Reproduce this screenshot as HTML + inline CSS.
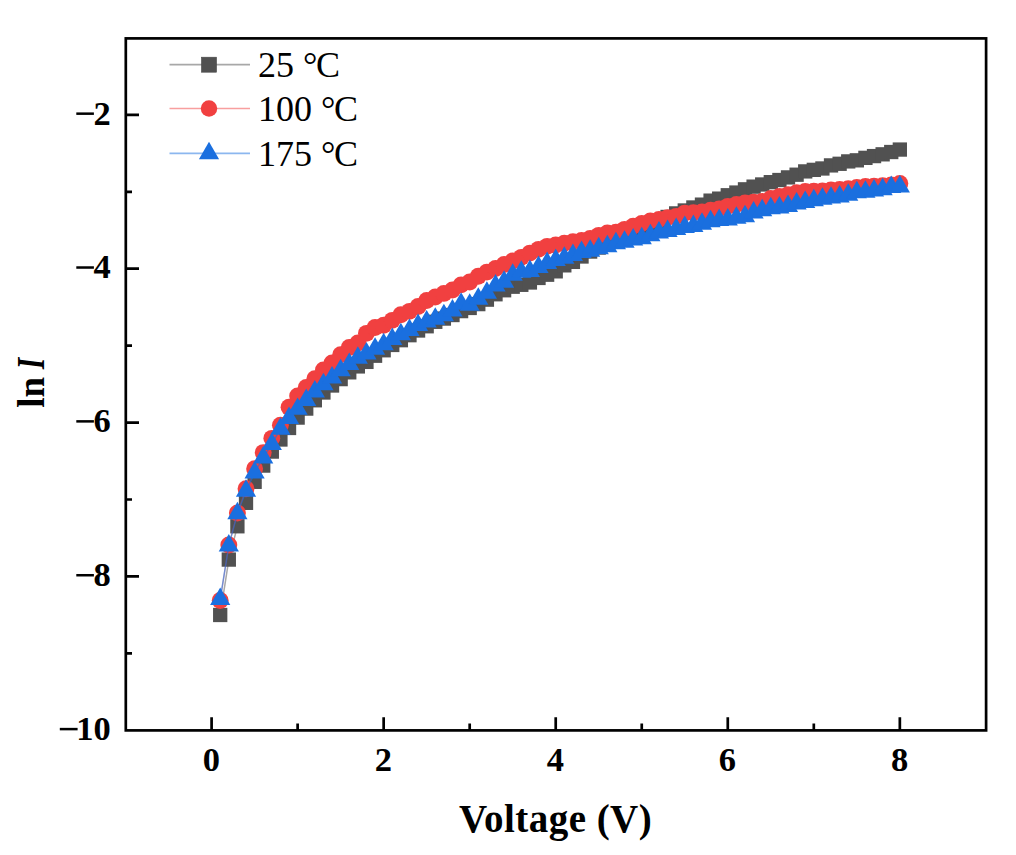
<!DOCTYPE html><html><head><meta charset="utf-8"><style>html,body{margin:0;padding:0;background:#fff;}svg{display:block;}</style></head><body>
<svg width="1016" height="855" viewBox="0 0 1016 855">
<rect x="0" y="0" width="1016" height="855" fill="#fff"/>
<path d="M220.20,614.98 L228.81,559.59 L237.41,526.28 L246.01,502.82 L254.62,481.82 L263.22,465.58 L271.82,451.58 L280.42,439.50 L289.03,427.97 L297.63,417.58 L306.23,408.58 L314.84,400.27 L323.44,392.50 L332.04,385.50 L340.64,379.11 L349.25,372.34 L357.85,366.42 L366.45,361.88 L375.06,355.73 L383.66,350.27 L392.26,344.96 L400.87,340.19 L409.47,335.19 L418.07,330.49 L426.67,326.26 L435.28,321.80 L443.88,318.57 L452.48,315.03 L461.09,311.11 L469.69,307.95 L478.29,304.11 L486.90,299.65 L495.50,294.26 L504.10,290.26 L512.71,286.72 L521.31,284.80 L529.91,282.49 L538.51,277.95 L547.12,274.72 L555.72,271.34 L564.32,265.34 L572.93,261.87 L581.53,256.49 L590.13,251.56 L598.74,247.56 L607.34,243.72 L615.94,239.95 L624.54,236.10 L633.15,232.26 L641.75,228.49 L650.35,224.64 L658.96,220.79 L667.56,216.95 L676.16,213.41 L684.76,210.48 L693.37,207.48 L701.97,204.64 L710.57,200.64 L719.18,198.64 L727.78,195.25 L736.38,192.56 L744.99,189.33 L753.59,186.64 L762.19,184.48 L770.80,182.17 L779.40,180.02 L788.00,177.40 L796.60,174.71 L805.21,171.40 L813.81,169.86 L822.41,168.48 L831.02,165.40 L839.62,163.79 L848.22,161.40 L856.83,160.33 L865.43,157.86 L874.03,156.09 L882.63,154.33 L891.24,152.02 L899.84,149.56" fill="none" stroke="#515151" stroke-opacity="0.5" stroke-width="1.5"/>
<g fill="#515151">
<rect x="213.05" y="607.83" width="14.30" height="14.30"/>
<rect x="221.66" y="552.44" width="14.30" height="14.30"/>
<rect x="230.26" y="519.13" width="14.30" height="14.30"/>
<rect x="238.86" y="495.67" width="14.30" height="14.30"/>
<rect x="247.47" y="474.67" width="14.30" height="14.30"/>
<rect x="256.07" y="458.43" width="14.30" height="14.30"/>
<rect x="264.67" y="444.43" width="14.30" height="14.30"/>
<rect x="273.27" y="432.35" width="14.30" height="14.30"/>
<rect x="281.88" y="420.82" width="14.30" height="14.30"/>
<rect x="290.48" y="410.43" width="14.30" height="14.30"/>
<rect x="299.08" y="401.43" width="14.30" height="14.30"/>
<rect x="307.69" y="393.12" width="14.30" height="14.30"/>
<rect x="316.29" y="385.35" width="14.30" height="14.30"/>
<rect x="324.89" y="378.35" width="14.30" height="14.30"/>
<rect x="333.50" y="371.96" width="14.30" height="14.30"/>
<rect x="342.10" y="365.19" width="14.30" height="14.30"/>
<rect x="350.70" y="359.27" width="14.30" height="14.30"/>
<rect x="359.30" y="354.73" width="14.30" height="14.30"/>
<rect x="367.91" y="348.58" width="14.30" height="14.30"/>
<rect x="376.51" y="343.12" width="14.30" height="14.30"/>
<rect x="385.11" y="337.81" width="14.30" height="14.30"/>
<rect x="393.72" y="333.04" width="14.30" height="14.30"/>
<rect x="402.32" y="328.04" width="14.30" height="14.30"/>
<rect x="410.92" y="323.34" width="14.30" height="14.30"/>
<rect x="419.52" y="319.11" width="14.30" height="14.30"/>
<rect x="428.13" y="314.65" width="14.30" height="14.30"/>
<rect x="436.73" y="311.42" width="14.30" height="14.30"/>
<rect x="445.33" y="307.88" width="14.30" height="14.30"/>
<rect x="453.94" y="303.96" width="14.30" height="14.30"/>
<rect x="462.54" y="300.80" width="14.30" height="14.30"/>
<rect x="471.14" y="296.96" width="14.30" height="14.30"/>
<rect x="479.75" y="292.50" width="14.30" height="14.30"/>
<rect x="488.35" y="287.11" width="14.30" height="14.30"/>
<rect x="496.95" y="283.11" width="14.30" height="14.30"/>
<rect x="505.56" y="279.57" width="14.30" height="14.30"/>
<rect x="514.16" y="277.65" width="14.30" height="14.30"/>
<rect x="522.76" y="275.34" width="14.30" height="14.30"/>
<rect x="531.36" y="270.80" width="14.30" height="14.30"/>
<rect x="539.97" y="267.57" width="14.30" height="14.30"/>
<rect x="548.57" y="264.19" width="14.30" height="14.30"/>
<rect x="557.17" y="258.19" width="14.30" height="14.30"/>
<rect x="565.78" y="254.72" width="14.30" height="14.30"/>
<rect x="574.38" y="249.34" width="14.30" height="14.30"/>
<rect x="582.98" y="244.41" width="14.30" height="14.30"/>
<rect x="591.59" y="240.41" width="14.30" height="14.30"/>
<rect x="600.19" y="236.57" width="14.30" height="14.30"/>
<rect x="608.79" y="232.80" width="14.30" height="14.30"/>
<rect x="617.39" y="228.95" width="14.30" height="14.30"/>
<rect x="626.00" y="225.11" width="14.30" height="14.30"/>
<rect x="634.60" y="221.34" width="14.30" height="14.30"/>
<rect x="643.20" y="217.49" width="14.30" height="14.30"/>
<rect x="651.81" y="213.64" width="14.30" height="14.30"/>
<rect x="660.41" y="209.80" width="14.30" height="14.30"/>
<rect x="669.01" y="206.26" width="14.30" height="14.30"/>
<rect x="677.62" y="203.33" width="14.30" height="14.30"/>
<rect x="686.22" y="200.33" width="14.30" height="14.30"/>
<rect x="694.82" y="197.49" width="14.30" height="14.30"/>
<rect x="703.42" y="193.49" width="14.30" height="14.30"/>
<rect x="712.03" y="191.49" width="14.30" height="14.30"/>
<rect x="720.63" y="188.10" width="14.30" height="14.30"/>
<rect x="729.23" y="185.41" width="14.30" height="14.30"/>
<rect x="737.84" y="182.18" width="14.30" height="14.30"/>
<rect x="746.44" y="179.49" width="14.30" height="14.30"/>
<rect x="755.04" y="177.33" width="14.30" height="14.30"/>
<rect x="763.65" y="175.02" width="14.30" height="14.30"/>
<rect x="772.25" y="172.87" width="14.30" height="14.30"/>
<rect x="780.85" y="170.25" width="14.30" height="14.30"/>
<rect x="789.45" y="167.56" width="14.30" height="14.30"/>
<rect x="798.06" y="164.25" width="14.30" height="14.30"/>
<rect x="806.66" y="162.71" width="14.30" height="14.30"/>
<rect x="815.26" y="161.33" width="14.30" height="14.30"/>
<rect x="823.87" y="158.25" width="14.30" height="14.30"/>
<rect x="832.47" y="156.64" width="14.30" height="14.30"/>
<rect x="841.07" y="154.25" width="14.30" height="14.30"/>
<rect x="849.68" y="153.18" width="14.30" height="14.30"/>
<rect x="858.28" y="150.71" width="14.30" height="14.30"/>
<rect x="866.88" y="148.94" width="14.30" height="14.30"/>
<rect x="875.48" y="147.18" width="14.30" height="14.30"/>
<rect x="884.09" y="144.87" width="14.30" height="14.30"/>
<rect x="892.69" y="142.41" width="14.30" height="14.30"/>
</g>
<path d="M220.20,600.52 L228.81,544.98 L237.41,512.97 L246.01,488.74 L254.62,468.74 L263.22,452.58 L271.82,438.35 L280.42,425.27 L289.03,407.19 L297.63,395.96 L306.23,387.42 L314.84,378.73 L323.44,369.88 L332.04,363.04 L340.64,354.80 L349.25,347.50 L357.85,343.03 L366.45,333.34 L375.06,327.49 L383.66,325.26 L392.26,320.34 L400.87,314.80 L409.47,311.34 L418.07,306.57 L426.67,300.49 L435.28,296.95 L443.88,293.41 L452.48,289.95 L461.09,284.88 L469.69,281.95 L478.29,276.26 L486.90,272.10 L495.50,268.49 L504.10,264.49 L512.71,261.03 L521.31,257.33 L529.91,253.10 L538.51,249.33 L547.12,246.33 L555.72,245.03 L564.32,243.26 L572.93,241.64 L581.53,240.49 L590.13,238.56 L598.74,235.33 L607.34,232.87 L615.94,232.26 L624.54,229.33 L633.15,226.18 L641.75,223.49 L650.35,220.87 L658.96,219.41 L667.56,217.64 L676.16,216.33 L684.76,213.10 L693.37,212.79 L701.97,212.02 L710.57,210.18 L719.18,208.87 L727.78,206.33 L736.38,204.56 L744.99,202.94 L753.59,202.10 L762.19,201.33 L770.80,198.48 L779.40,196.56 L788.00,194.79 L796.60,192.64 L805.21,191.41 L813.81,191.10 L822.41,190.94 L831.02,189.94 L839.62,189.41 L848.22,188.79 L856.83,187.56 L865.43,186.40 L874.03,186.10 L882.63,185.79 L891.24,184.87 L899.84,183.40" fill="none" stroke="#F14040" stroke-opacity="0.4" stroke-width="1.3"/>
<g fill="#F14040">
<circle cx="220.20" cy="600.52" r="8.45"/>
<circle cx="228.81" cy="544.98" r="8.45"/>
<circle cx="237.41" cy="512.97" r="8.45"/>
<circle cx="246.01" cy="488.74" r="8.45"/>
<circle cx="254.62" cy="468.74" r="8.45"/>
<circle cx="263.22" cy="452.58" r="8.45"/>
<circle cx="271.82" cy="438.35" r="8.45"/>
<circle cx="280.42" cy="425.27" r="8.45"/>
<circle cx="289.03" cy="407.19" r="8.45"/>
<circle cx="297.63" cy="395.96" r="8.45"/>
<circle cx="306.23" cy="387.42" r="8.45"/>
<circle cx="314.84" cy="378.73" r="8.45"/>
<circle cx="323.44" cy="369.88" r="8.45"/>
<circle cx="332.04" cy="363.04" r="8.45"/>
<circle cx="340.64" cy="354.80" r="8.45"/>
<circle cx="349.25" cy="347.50" r="8.45"/>
<circle cx="357.85" cy="343.03" r="8.45"/>
<circle cx="366.45" cy="333.34" r="8.45"/>
<circle cx="375.06" cy="327.49" r="8.45"/>
<circle cx="383.66" cy="325.26" r="8.45"/>
<circle cx="392.26" cy="320.34" r="8.45"/>
<circle cx="400.87" cy="314.80" r="8.45"/>
<circle cx="409.47" cy="311.34" r="8.45"/>
<circle cx="418.07" cy="306.57" r="8.45"/>
<circle cx="426.67" cy="300.49" r="8.45"/>
<circle cx="435.28" cy="296.95" r="8.45"/>
<circle cx="443.88" cy="293.41" r="8.45"/>
<circle cx="452.48" cy="289.95" r="8.45"/>
<circle cx="461.09" cy="284.88" r="8.45"/>
<circle cx="469.69" cy="281.95" r="8.45"/>
<circle cx="478.29" cy="276.26" r="8.45"/>
<circle cx="486.90" cy="272.10" r="8.45"/>
<circle cx="495.50" cy="268.49" r="8.45"/>
<circle cx="504.10" cy="264.49" r="8.45"/>
<circle cx="512.71" cy="261.03" r="8.45"/>
<circle cx="521.31" cy="257.33" r="8.45"/>
<circle cx="529.91" cy="253.10" r="8.45"/>
<circle cx="538.51" cy="249.33" r="8.45"/>
<circle cx="547.12" cy="246.33" r="8.45"/>
<circle cx="555.72" cy="245.03" r="8.45"/>
<circle cx="564.32" cy="243.26" r="8.45"/>
<circle cx="572.93" cy="241.64" r="8.45"/>
<circle cx="581.53" cy="240.49" r="8.45"/>
<circle cx="590.13" cy="238.56" r="8.45"/>
<circle cx="598.74" cy="235.33" r="8.45"/>
<circle cx="607.34" cy="232.87" r="8.45"/>
<circle cx="615.94" cy="232.26" r="8.45"/>
<circle cx="624.54" cy="229.33" r="8.45"/>
<circle cx="633.15" cy="226.18" r="8.45"/>
<circle cx="641.75" cy="223.49" r="8.45"/>
<circle cx="650.35" cy="220.87" r="8.45"/>
<circle cx="658.96" cy="219.41" r="8.45"/>
<circle cx="667.56" cy="217.64" r="8.45"/>
<circle cx="676.16" cy="216.33" r="8.45"/>
<circle cx="684.76" cy="213.10" r="8.45"/>
<circle cx="693.37" cy="212.79" r="8.45"/>
<circle cx="701.97" cy="212.02" r="8.45"/>
<circle cx="710.57" cy="210.18" r="8.45"/>
<circle cx="719.18" cy="208.87" r="8.45"/>
<circle cx="727.78" cy="206.33" r="8.45"/>
<circle cx="736.38" cy="204.56" r="8.45"/>
<circle cx="744.99" cy="202.94" r="8.45"/>
<circle cx="753.59" cy="202.10" r="8.45"/>
<circle cx="762.19" cy="201.33" r="8.45"/>
<circle cx="770.80" cy="198.48" r="8.45"/>
<circle cx="779.40" cy="196.56" r="8.45"/>
<circle cx="788.00" cy="194.79" r="8.45"/>
<circle cx="796.60" cy="192.64" r="8.45"/>
<circle cx="805.21" cy="191.41" r="8.45"/>
<circle cx="813.81" cy="191.10" r="8.45"/>
<circle cx="822.41" cy="190.94" r="8.45"/>
<circle cx="831.02" cy="189.94" r="8.45"/>
<circle cx="839.62" cy="189.41" r="8.45"/>
<circle cx="848.22" cy="188.79" r="8.45"/>
<circle cx="856.83" cy="187.56" r="8.45"/>
<circle cx="865.43" cy="186.40" r="8.45"/>
<circle cx="874.03" cy="186.10" r="8.45"/>
<circle cx="882.63" cy="185.79" r="8.45"/>
<circle cx="891.24" cy="184.87" r="8.45"/>
<circle cx="899.84" cy="183.40" r="8.45"/>
</g>
<path d="M220.20,599.06 L228.81,545.59 L237.41,513.51 L246.01,490.97 L254.62,472.58 L263.22,457.58 L271.82,444.12 L280.42,428.89 L289.03,418.12 L297.63,409.04 L306.23,400.12 L314.84,391.73 L323.44,384.50 L332.04,377.58 L340.64,370.50 L349.25,364.11 L357.85,358.04 L366.45,353.73 L375.06,348.80 L383.66,344.50 L392.26,339.26 L400.87,334.34 L409.47,330.11 L418.07,325.19 L426.67,321.72 L435.28,318.80 L443.88,315.34 L452.48,310.57 L461.09,303.95 L469.69,304.88 L478.29,298.88 L486.90,292.80 L495.50,285.72 L504.10,281.95 L512.71,274.95 L521.31,271.95 L529.91,271.18 L538.51,267.10 L547.12,263.18 L555.72,260.26 L564.32,257.95 L572.93,255.18 L581.53,252.18 L590.13,250.80 L598.74,248.33 L607.34,246.41 L615.94,243.41 L624.54,241.95 L633.15,239.56 L641.75,238.49 L650.35,235.49 L658.96,232.64 L667.56,231.18 L676.16,229.18 L684.76,227.18 L693.37,226.18 L701.97,223.87 L710.57,221.41 L719.18,220.18 L727.78,219.64 L736.38,218.02 L744.99,216.41 L753.59,212.64 L762.19,210.41 L770.80,208.33 L779.40,207.71 L788.00,206.10 L796.60,203.64 L805.21,202.10 L813.81,200.33 L822.41,199.02 L831.02,197.79 L839.62,196.64 L848.22,194.87 L856.83,192.48 L865.43,191.87 L874.03,190.71 L882.63,189.48 L891.24,187.25 L899.84,186.64" fill="none" stroke="#1A6FDF" stroke-opacity="0.6" stroke-width="1.5"/>
<g fill="#1A6FDF">
<path d="M220.20,587.40 L230.30,604.89 L210.10,604.89 Z"/>
<path d="M228.81,533.93 L238.91,551.42 L218.71,551.42 Z"/>
<path d="M237.41,501.85 L247.51,519.34 L227.31,519.34 Z"/>
<path d="M246.01,479.31 L256.11,496.80 L235.91,496.80 Z"/>
<path d="M254.62,460.92 L264.72,478.42 L244.52,478.42 Z"/>
<path d="M263.22,445.92 L273.32,463.41 L253.12,463.41 Z"/>
<path d="M271.82,432.46 L281.92,449.95 L261.72,449.95 Z"/>
<path d="M280.42,417.23 L290.52,434.72 L270.32,434.72 Z"/>
<path d="M289.03,406.46 L299.13,423.95 L278.93,423.95 Z"/>
<path d="M297.63,397.38 L307.73,414.87 L287.53,414.87 Z"/>
<path d="M306.23,388.45 L316.33,405.95 L296.13,405.95 Z"/>
<path d="M314.84,380.07 L324.94,397.56 L304.74,397.56 Z"/>
<path d="M323.44,372.84 L333.54,390.33 L313.34,390.33 Z"/>
<path d="M332.04,365.91 L342.14,383.41 L321.94,383.41 Z"/>
<path d="M340.64,358.84 L350.75,376.33 L330.54,376.33 Z"/>
<path d="M349.25,352.45 L359.35,369.94 L339.15,369.94 Z"/>
<path d="M357.85,346.37 L367.95,363.87 L347.75,363.87 Z"/>
<path d="M366.45,342.07 L376.55,359.56 L356.35,359.56 Z"/>
<path d="M375.06,337.14 L385.16,354.64 L364.96,354.64 Z"/>
<path d="M383.66,332.83 L393.76,350.33 L373.56,350.33 Z"/>
<path d="M392.26,327.60 L402.36,345.10 L382.16,345.10 Z"/>
<path d="M400.87,322.68 L410.97,340.17 L390.77,340.17 Z"/>
<path d="M409.47,318.45 L419.57,335.94 L399.37,335.94 Z"/>
<path d="M418.07,313.52 L428.17,331.02 L407.97,331.02 Z"/>
<path d="M426.67,310.06 L436.77,327.56 L416.57,327.56 Z"/>
<path d="M435.28,307.14 L445.38,324.63 L425.18,324.63 Z"/>
<path d="M443.88,303.68 L453.98,321.17 L433.78,321.17 Z"/>
<path d="M452.48,298.91 L462.58,316.40 L442.38,316.40 Z"/>
<path d="M461.09,292.29 L471.19,309.79 L450.99,309.79 Z"/>
<path d="M469.69,293.21 L479.79,310.71 L459.59,310.71 Z"/>
<path d="M478.29,287.21 L488.39,304.71 L468.19,304.71 Z"/>
<path d="M486.90,281.14 L497.00,298.63 L476.80,298.63 Z"/>
<path d="M495.50,274.06 L505.60,291.55 L485.40,291.55 Z"/>
<path d="M504.10,270.29 L514.20,287.78 L494.00,287.78 Z"/>
<path d="M512.71,263.29 L522.81,280.78 L502.61,280.78 Z"/>
<path d="M521.31,260.29 L531.41,277.78 L511.21,277.78 Z"/>
<path d="M529.91,259.52 L540.01,277.01 L519.81,277.01 Z"/>
<path d="M538.51,255.44 L548.61,272.94 L528.41,272.94 Z"/>
<path d="M547.12,251.52 L557.22,269.01 L537.02,269.01 Z"/>
<path d="M555.72,248.60 L565.82,266.09 L545.62,266.09 Z"/>
<path d="M564.32,246.29 L574.42,263.78 L554.22,263.78 Z"/>
<path d="M572.93,243.52 L583.03,261.01 L562.83,261.01 Z"/>
<path d="M581.53,240.52 L591.63,258.01 L571.43,258.01 Z"/>
<path d="M590.13,239.13 L600.23,256.63 L580.03,256.63 Z"/>
<path d="M598.74,236.67 L608.84,254.16 L588.63,254.16 Z"/>
<path d="M607.34,234.75 L617.44,252.24 L597.24,252.24 Z"/>
<path d="M615.94,231.75 L626.04,249.24 L605.84,249.24 Z"/>
<path d="M624.54,230.29 L634.64,247.78 L614.44,247.78 Z"/>
<path d="M633.15,227.90 L643.25,245.39 L623.05,245.39 Z"/>
<path d="M641.75,226.82 L651.85,244.32 L631.65,244.32 Z"/>
<path d="M650.35,223.82 L660.45,241.32 L640.25,241.32 Z"/>
<path d="M658.96,220.98 L669.06,238.47 L648.86,238.47 Z"/>
<path d="M667.56,219.52 L677.66,237.01 L657.46,237.01 Z"/>
<path d="M676.16,217.52 L686.26,235.01 L666.06,235.01 Z"/>
<path d="M684.76,215.52 L694.87,233.01 L674.66,233.01 Z"/>
<path d="M693.37,214.52 L703.47,232.01 L683.27,232.01 Z"/>
<path d="M701.97,212.21 L712.07,229.70 L691.87,229.70 Z"/>
<path d="M710.57,209.75 L720.67,227.24 L700.47,227.24 Z"/>
<path d="M719.18,208.52 L729.28,226.01 L709.08,226.01 Z"/>
<path d="M727.78,207.98 L737.88,225.47 L717.68,225.47 Z"/>
<path d="M736.38,206.36 L746.48,223.85 L726.28,223.85 Z"/>
<path d="M744.99,204.75 L755.09,222.24 L734.89,222.24 Z"/>
<path d="M753.59,200.98 L763.69,218.47 L743.49,218.47 Z"/>
<path d="M762.19,198.74 L772.29,216.24 L752.09,216.24 Z"/>
<path d="M770.80,196.67 L780.90,214.16 L760.70,214.16 Z"/>
<path d="M779.40,196.05 L789.50,213.55 L769.30,213.55 Z"/>
<path d="M788.00,194.44 L798.10,211.93 L777.90,211.93 Z"/>
<path d="M796.60,191.98 L806.70,209.47 L786.50,209.47 Z"/>
<path d="M805.21,190.44 L815.31,207.93 L795.11,207.93 Z"/>
<path d="M813.81,188.67 L823.91,206.16 L803.71,206.16 Z"/>
<path d="M822.41,187.36 L832.51,204.85 L812.31,204.85 Z"/>
<path d="M831.02,186.13 L841.12,203.62 L820.92,203.62 Z"/>
<path d="M839.62,184.97 L849.72,202.47 L829.52,202.47 Z"/>
<path d="M848.22,183.21 L858.32,200.70 L838.12,200.70 Z"/>
<path d="M856.83,180.82 L866.93,198.31 L846.73,198.31 Z"/>
<path d="M865.43,180.20 L875.53,197.70 L855.33,197.70 Z"/>
<path d="M874.03,179.05 L884.13,196.54 L863.93,196.54 Z"/>
<path d="M882.63,177.82 L892.73,195.31 L872.53,195.31 Z"/>
<path d="M891.24,175.59 L901.34,193.08 L881.14,193.08 Z"/>
<path d="M899.84,174.97 L909.94,192.47 L889.74,192.47 Z"/>
</g>
<rect x="125.8" y="38.4" width="860.3" height="692.0" fill="none" stroke="#000" stroke-width="2.7"/>
<path d="M125.8,114.86 H139.0 M125.8,268.72 H139.0 M125.8,422.58 H139.0 M125.8,576.44 H139.0 M125.8,191.79 H132.0 M125.8,345.65 H132.0 M125.8,499.51 H132.0 M125.8,653.37 H132.0 M211.60,730.4 V717.1999999999999 M383.66,730.4 V717.1999999999999 M555.72,730.4 V717.1999999999999 M727.78,730.4 V717.1999999999999 M899.84,730.4 V717.1999999999999 M297.63,730.4 V723.4 M469.69,730.4 V723.4 M641.75,730.4 V723.4 M813.81,730.4 V723.4" stroke="#000" stroke-width="2.7" fill="none"/>
<g font-family="Liberation Serif, serif" font-weight="bold" font-size="34.5" fill="#000">
<text x="110.8" y="124.56" text-anchor="end">2</text>
<text x="110.8" y="278.42" text-anchor="end">4</text>
<text x="110.8" y="432.28" text-anchor="end">6</text>
<text x="110.8" y="586.14" text-anchor="end">8</text>
<text x="110.8" y="740.00" text-anchor="end">10</text>
<text x="211.30" y="771" text-anchor="middle">0</text>
<text x="383.36" y="771" text-anchor="middle">2</text>
<text x="555.42" y="771" text-anchor="middle">4</text>
<text x="727.48" y="771" text-anchor="middle">6</text>
<text x="899.54" y="771" text-anchor="middle">8</text>
</g>
<rect x="76.3" y="112.41" width="17.6" height="2.5" fill="#000"/>
<rect x="76.3" y="266.27" width="17.6" height="2.5" fill="#000"/>
<rect x="76.3" y="420.13" width="17.6" height="2.5" fill="#000"/>
<rect x="76.3" y="573.99" width="17.6" height="2.5" fill="#000"/>
<rect x="59.8" y="727.85" width="17.8" height="2.5" fill="#000"/>
<g transform="translate(43.9,407) rotate(-90)" font-family="Liberation Serif, serif" font-weight="bold" font-size="37"><text x="-0.8" y="0">l</text><text x="9.6" y="0">n</text></g>
<text transform="translate(43.9,369.3) rotate(-90) scale(0.8,1.08)" font-family="Liberation Serif, serif" font-weight="bold" font-style="italic" font-size="37">I</text>
<text x="555.6" y="831.6" font-family="Liberation Serif, serif" font-weight="bold" font-size="39" letter-spacing="0.45" text-anchor="middle">Voltage (V)</text>
<path d="M169.5,64.7 H250" stroke="#515151" stroke-opacity="0.5" stroke-width="1.7"/>
<rect x="201.5" y="57.2" width="15" height="15" fill="#515151" stroke="#464646" stroke-width="0.6"/>
<text x="258" y="77.00" font-family="Liberation Serif, serif" font-size="36">25 °<tspan dx="-1.5">C</tspan></text>
<path d="M169.5,108.5 H250" stroke="#F14040" stroke-opacity="0.5" stroke-width="1.7"/>
<circle cx="209" cy="108.5" r="8.25" fill="#F14040"/>
<text x="258" y="120.80" font-family="Liberation Serif, serif" font-size="36">100 °<tspan dx="-1.5">C</tspan></text>
<path d="M169.5,153.3 H250" stroke="#1A6FDF" stroke-opacity="0.5" stroke-width="1.7"/>
<path d="M209,141.64 L219.10,159.13 L198.90,159.13 Z" fill="#1A6FDF"/>
<text x="258" y="165.60" font-family="Liberation Serif, serif" font-size="36">175 °<tspan dx="-1.5">C</tspan></text>
</svg></body></html>
